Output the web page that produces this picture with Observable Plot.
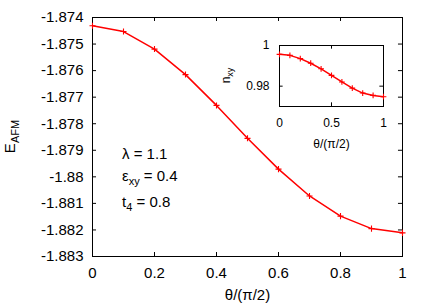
<!DOCTYPE html>
<html>
<head>
<meta charset="utf-8">
<script src="https://cdn.jsdelivr.net/npm/d3@7"></script>
<script src="https://cdn.jsdelivr.net/npm/@observablehq/plot@0.6"></script>
<style>
  html, body { margin: 0; padding: 0; background: #fff; }
  #wrap { position: relative; width: 436px; height: 305px; }
  #wrap svg { position: absolute; }
</style>
</head>
<body>
<div id="wrap"></div>
<script>
// ---- data ----
const theta = [0, 0.1, 0.2, 0.3, 0.4, 0.5, 0.6, 0.7, 0.8, 0.9, 1.0];
const eAFM = [-1.87431, -1.87453, -1.87519, -1.87615, -1.87731, -1.87855, -1.87971, -1.88072, -1.88148, -1.88195, -1.88211];
const nxy = [0.99564, 0.99516, 0.99356, 0.99128, 0.98853, 0.98533, 0.98208, 0.97903, 0.97661, 0.97545, 0.97482];
const xTicks = [0, 0.2, 0.4, 0.6, 0.8, 1];
const yTicks = [-1.874, -1.875, -1.876, -1.877, -1.878, -1.879, -1.88, -1.881, -1.882, -1.883];
const insetXTicks = [0, 0.5, 1];
const insetYTicks = [0.98, 1];
const params = [["λ", "", " = 1.1"], ["ε", "xy", " = 0.4"], ["t", "4", " = 0.8"]];

const FONT = "'Liberation Sans', Arial, Helvetica, sans-serif";
const RED = "#ff0000";
const mainData = theta.map((t, i) => ({t, e: eAFM[i]}));
const insetData = theta.map((t, i) => ({t, n: nxy[i]}));
const fmt = d => String(+d.toFixed(3));

// ---- main plot ----
const yMin = -1.883, yMax = -1.874;
const tyLen = 0.00015, txLen = 0.013;
const main = Plot.plot({
  width: 436, height: 305,
  marginLeft: 92, marginRight: 34, marginTop: 17, marginBottom: 49,
  style: {fontFamily: FONT, fontSize: "15px", background: "transparent", color: "#000"},
  x: {domain: [0, 1], ticks: xTicks, tickFormat: fmt, tickSize: 0, tickPadding: 11, label: null},
  y: {domain: [yMin, yMax], ticks: yTicks, tickFormat: fmt, tickSize: 0, tickPadding: 9, label: null},
  marks: [
    Plot.ruleX(xTicks, {x: d => d, y1: yMin, y2: yMin + tyLen, stroke: "#000"}),
    Plot.ruleX(xTicks, {x: d => d, y1: yMax, y2: yMax - tyLen, stroke: "#000"}),
    Plot.ruleY(yTicks, {y: d => d, x1: 0, x2: txLen, stroke: "#000"}),
    Plot.ruleY(yTicks, {y: d => d, x1: 1, x2: 1 - txLen, stroke: "#000"}),
    Plot.frame({stroke: "#000"}),
    Plot.line(mainData, {x: "t", y: "e", stroke: RED, strokeWidth: 1.5}),
    Plot.dot(mainData, {x: "t", y: "e", symbol: "plus", r: 2.1, stroke: RED, strokeWidth: 1.1}),
    Plot.text(["θ/(π/2)"], {frameAnchor: "bottom", lineAnchor: "middle", dy: 39, fontSize: 15})
  ]
});
main.style.left = "0px"; main.style.top = "0px";

const X = main.scale("x"), Y = main.scale("y");
const ms = d3.select(main);

function subText(sel, x, y, base, sub, rest, fs, sfs, drop, rotate) {
  const t = sel.append("text")
    .attr("font-family", FONT).attr("font-size", fs).attr("fill", "#000")
    .attr("transform", `translate(${x},${y})` + (rotate ? " rotate(-90)" : ""))
    .attr("text-anchor", rotate ? "middle" : "start");
  t.append("tspan").text(base);
  if (sub) t.append("tspan").attr("font-size", sfs).attr("dy", drop).text(sub);
  if (rest) t.append("tspan").attr("dy", sub ? -drop : 0).text(rest);
  return t;
}

// y-axis label E_AFM
subText(ms, 15, (Y.apply(yMin) + Y.apply(yMax)) / 2, "E", "AFM", "", 15, 11, 4, true);

// parameter annotations
const annX = X.apply(0) + 30;
const baselines = [159, 180.7, 206.7];
params.forEach((p, i) => subText(ms, annX, baselines[i], p[0], p[1], p[2], 15, 11, 4, false));

// ---- inset ----
const iyMin = 0.97, iyMax = 1.0;
const inset = Plot.plot({
  width: 190, height: 130,
  marginLeft: 69, marginRight: 17, marginTop: 15, marginBottom: 54,
  style: {fontFamily: FONT, fontSize: "12px", background: "transparent", color: "#000"},
  x: {domain: [0, 1], ticks: insetXTicks, tickFormat: fmt, tickSize: 0, tickPadding: 12, label: null},
  y: {domain: [iyMin, iyMax], ticks: insetYTicks, tickFormat: fmt, tickSize: 0, tickPadding: 10, label: null},
  marks: [
    Plot.ruleX(insetXTicks, {x: d => d, y1: iyMin, y2: iyMin + 0.0018, stroke: "#000"}),
    Plot.ruleX(insetXTicks, {x: d => d, y1: iyMax, y2: iyMax - 0.0018, stroke: "#000"}),
    Plot.ruleY(insetYTicks, {y: d => d, x1: 0, x2: 0.035, stroke: "#000"}),
    Plot.ruleY(insetYTicks, {y: d => d, x1: 1, x2: 1 - 0.035, stroke: "#000"}),
    Plot.frame({stroke: "#000"}),
    Plot.line(insetData, {x: "t", y: "n", stroke: RED, strokeWidth: 1.5}),
    Plot.dot(insetData, {x: "t", y: "n", symbol: "plus", r: 2.0, stroke: RED, strokeWidth: 1.1}),
    Plot.text(["θ/(π/2)"], {frameAnchor: "bottom", lineAnchor: "middle", dy: 37.5, fontSize: 12})
  ]
});
inset.style.left = "210px"; inset.style.top = "30px";
const IY = inset.scale("y");
subText(d3.select(inset), 20, (IY.apply(iyMin) + IY.apply(iyMax)) / 2, "n", "xy", "", 12, 9, 3, true);

const wrap = document.getElementById("wrap");
wrap.appendChild(main);
wrap.appendChild(inset);
</script>
</body>
</html>
